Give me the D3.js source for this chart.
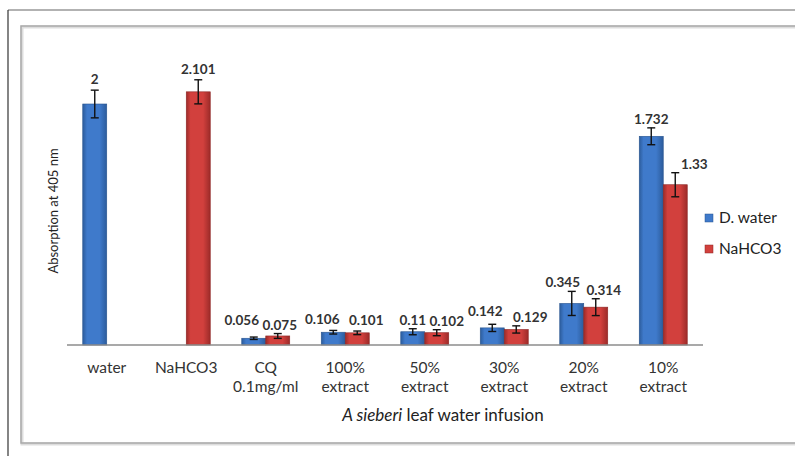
<!DOCTYPE html>
<html>
<head>
<meta charset="utf-8">
<script src="https://cdn.jsdelivr.net/npm/d3@7"></script>
<style>
  body { margin: 0; background: #fff; }
  svg { display: block; font-family: Lato, "Open Sans", sans-serif; }
</style>
</head>
<body>
<svg id="chart" width="795" height="456"></svg>
<script>
// data
const categories = ['water', 'NaHCO3', 'CQ|0.1mg/ml', '100%|extract', '50%|extract', '30%|extract', '20%|extract', '10%|extract'];
const series = ['D. water', 'NaHCO3'];
const dWater = [2, null, 0.056, 0.106, 0.11, 0.142, 0.345, 1.732];
const nahco3 = [null, 2.101, 0.075, 0.101, 0.102, 0.129, 0.314, 1.33];
const dWaterErr = [0.115, null, 0.01, 0.015, 0.025, 0.03, 0.1, 0.07];
const nahco3Err = [null, 0.1, 0.02, 0.015, 0.025, 0.03, 0.07, 0.1];
const labelsWater = ['2', '', '0.056', '0.106', '0.11', '0.142', '0.345', '1.732'];
const labelsNa = ['', '2.101', '0.075', '0.101', '0.102', '0.129', '0.314', '1.33'];

// label nudges (px), labels were moved by hand in the original
const dxWater = [0, 0, -12, -11, 0, -7, -9, 0];
const dxNa = [0, 0, 2, 9, 10, 14, 8, 19];
const dyWater = [-2, 0, -8, -2, 0, -4, 0, 0];
const dyNa = [0, -2, 0, -2, 0, 0, 0, 0];

const svg = d3.select('#chart');

// frames
svg.append('line').attr('x1', 8).attr('y1', 10).attr('x2', 795).attr('y2', 10)
  .attr('stroke', '#666').attr('stroke-width', 1.2);
svg.append('line').attr('x1', 8).attr('y1', 10).attr('x2', 8).attr('y2', 456)
  .attr('stroke', '#333').attr('stroke-width', 1.2);
svg.append('rect').attr('x', 22).attr('y', 27).attr('width', 800).attr('height', 417)
  .attr('fill', 'none').attr('stroke', '#ddd').attr('stroke-width', 3);
svg.append('rect').attr('x', 21).attr('y', 26).attr('width', 800).attr('height', 417)
  .attr('fill', 'none').attr('stroke', '#a9a9a9').attr('stroke-width', 1.5);

const defs = svg.append('defs');
function grad(id, edge, mid) {
  const g = defs.append('linearGradient').attr('id', id).attr('x1', 0).attr('x2', 1).attr('y1', 0).attr('y2', 0);
  g.append('stop').attr('offset', '0%').attr('stop-color', edge);
  g.append('stop').attr('offset', '18%').attr('stop-color', mid);
  g.append('stop').attr('offset', '70%').attr('stop-color', mid);
  g.append('stop').attr('offset', '100%').attr('stop-color', edge);
}
grad('gBlue', '#2c5c9c', '#3f7acb');
grad('gRed', '#9c2b29', '#d2403d');
const fills = ['url(#gBlue)', 'url(#gRed)'];
const legendFill = ['#3f7acb', '#d2403d'];
const strokes = ['#28548f', '#8e2624'];

const left = 67, right = 703, base = 345;
const x = d3.scaleBand().domain(categories).range([left, right]).paddingInner(0).paddingOuter(0);
const y = d3.scaleLinear().domain([0, 2.5]).range([base, base - 2.5 * 120.5]);
const barW = 24;

const rows = categories.map((c, i) => ({
  cat: c,
  vals: [dWater[i], nahco3[i]],
  errs: [dWaterErr[i], nahco3Err[i]],
  labels: [labelsWater[i], labelsNa[i]],
  dx: [dxWater[i], dxNa[i]],
  dy: [dyWater[i], dyNa[i]]
}));

const g = svg.append('g');

rows.forEach(r => {
  const cx = x(r.cat) + x.bandwidth() / 2;
  r.vals.forEach((v, s) => {
    if (v == null) return;
    const bx = cx - barW + s * barW;
    g.append('rect')
      .attr('x', bx).attr('y', y(v))
      .attr('width', barW).attr('height', base - y(v))
      .attr('fill', fills[s]).attr('stroke', strokes[s]).attr('stroke-width', 0.6);
    // error bar
    const e = r.errs[s];
    const mx = bx + barW / 2;
    const eb = g.append('g').attr('stroke', '#111').attr('stroke-width', 1.4);
    eb.append('line').attr('x1', mx).attr('x2', mx).attr('y1', y(v + e)).attr('y2', y(Math.max(0, v - e)));
    eb.append('line').attr('x1', mx - 4).attr('x2', mx + 4).attr('y1', y(v + e)).attr('y2', y(v + e));
    eb.append('line').attr('x1', mx - 4).attr('x2', mx + 4).attr('y1', y(Math.max(0, v - e))).attr('y2', y(Math.max(0, v - e)));
    // value label
    g.append('text')
      .attr('x', mx + r.dx[s]).attr('y', y(v + e) - 4 + r.dy[s])
      .attr('text-anchor', 'middle')
      .attr('font-size', 13.5).attr('font-weight', 'bold').attr('fill', '#333')
      .text(r.labels[s]);
  });
});

// baseline
svg.append('line').attr('x1', left).attr('x2', right).attr('y1', base).attr('y2', base)
  .attr('stroke', '#8c8c8c').attr('stroke-width', 1.5);

// category labels
const xt = svg.append('g').attr('font-size', 15.5).attr('fill', '#333').attr('text-anchor', 'middle');
categories.forEach(c => {
  const parts = c.split('|');
  const t = xt.append('text').attr('x', x(c) + x.bandwidth() / 2).attr('y', 373);
  parts.forEach((p, k) => {
    t.append('tspan').attr('x', x(c) + x.bandwidth() / 2).attr('dy', k === 0 ? 0 : 19).text(p);
  });
});

// axis titles
const xTitle = svg.append('text').attr('x', 443).attr('y', 421).attr('text-anchor', 'middle')
  .attr('font-size', 17).attr('fill', '#222');
xTitle.append('tspan').attr('font-style', 'italic').text('A sieberi');
xTitle.append('tspan').text(' leaf water infusion');

svg.append('text')
  .attr('transform', 'translate(58,211) rotate(-90)')
  .attr('text-anchor', 'middle').attr('font-size', 13).attr('fill', '#222')
  .text('Absorption at 405 nm');

// legend
const lg = svg.append('g').attr('transform', 'translate(705,0)');
series.forEach((s, i) => {
  const ly = 218 + i * 31;
  lg.append('rect').attr('x', 0).attr('y', ly - 4).attr('width', 8).attr('height', 8)
    .attr('fill', legendFill[i]).attr('stroke', strokes[i]).attr('stroke-width', 0.5);
  lg.append('text').attr('x', 14).attr('y', ly + 5).attr('font-size', 15.5).attr('fill', '#222').text(s);
});
</script>
</body>
</html>
